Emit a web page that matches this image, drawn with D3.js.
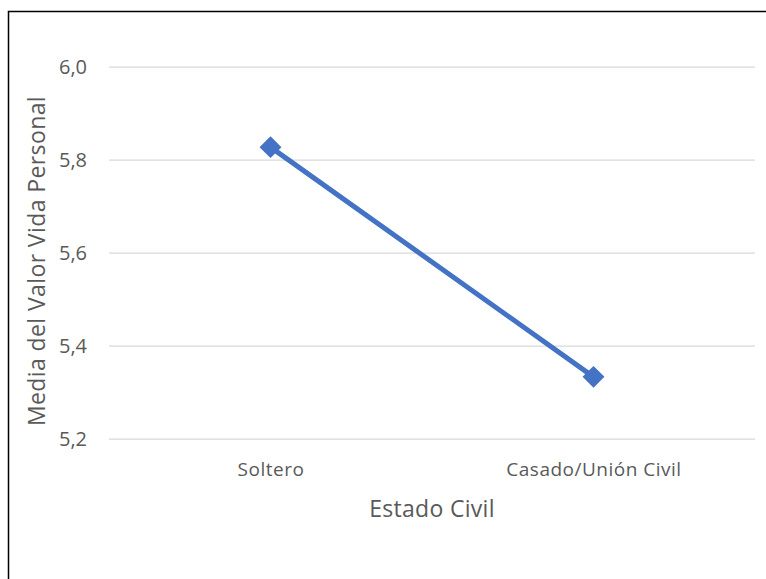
<!DOCTYPE html>
<html><head><meta charset="utf-8">
<script src="https://cdn.jsdelivr.net/npm/d3@7"></script>
<style>body{margin:0;background:#fff}svg{display:block}text{font-family:"Open Sans","Noto Sans",sans-serif;fill:#595959}</style>
</head><body>
<script>
const categories = ["Soltero", "Casado/Unión Civil"];
const values = [5.827, 5.333];
const yTicks = [5.2, 5.4, 5.6, 5.8, 6.0];
const yTitle = "Media del Valor Vida Personal";
const xTitle = "Estado Civil";

(function () {
const W = 766, H = 579;
const svg = d3.select("body").append("svg").attr("width", W).attr("height", H);
svg.append("rect").attr("x", 8.5).attr("y", 11.5).attr("width", 770).attr("height", 600)
  .attr("fill", "#fff").attr("stroke", "#000").attr("stroke-width", 1.5);

const pLeft = 109, pRight = 755, pTop = 66.7, pBottom = 438.7;
const x = d3.scalePoint().domain(categories).range([pLeft, pRight]).padding(0.5);
const y = d3.scaleLinear().domain([5.2, 6.0]).range([pBottom, pTop]);

const ya = svg.append("g").attr("transform", `translate(${pLeft},0)`)
  .call(d3.axisLeft(y).tickValues(yTicks).tickSize(-(pRight - pLeft)).tickPadding(22)
    .tickFormat(d => d3.format(".1f")(d).replace(".", ",")));
ya.select(".domain").remove();
ya.selectAll("line").attr("stroke", "#d9d9d9").attr("stroke-width", 1.3);
ya.selectAll("text").style("font-size", "20px").attr("fill", "#595959");

const xa = svg.append("g").attr("transform", `translate(0,${pBottom})`)
  .call(d3.axisBottom(x).tickSize(0).tickPadding(0));
xa.select(".domain").remove();
xa.selectAll("text").attr("dy", null).attr("y", 37).style("font-size", "19px")
  .style("letter-spacing", "0.5px").attr("fill", "#595959");

svg.append("text").attr("x", (pLeft + pRight) / 2).attr("y", 517).attr("text-anchor", "middle")
  .style("font-size", "23px").style("letter-spacing", "0.3px").text(xTitle);
svg.append("text").attr("transform", `translate(45,261) rotate(-90)`)
  .attr("text-anchor", "middle").style("font-size", "23px").style("letter-spacing", "0.4px").text(yTitle);

const pts = categories.map((c, i) => ({c, v: values[i]}));
svg.append("path").datum(pts)
  .attr("d", d3.line().x(d => x(d.c)).y(d => y(d.v)))
  .attr("fill", "none").attr("stroke", "#4472C4").attr("stroke-width", 5).attr("stroke-linecap", "round");
svg.selectAll(".m").data(pts).join("path").attr("class", "m")
  .attr("d", d3.symbol(d3.symbolSquare, 240)())
  .attr("transform", d => `translate(${x(d.c)},${y(d.v)}) rotate(45)`)
  .attr("fill", "#4472C4");
})();
</script>
</body></html>
